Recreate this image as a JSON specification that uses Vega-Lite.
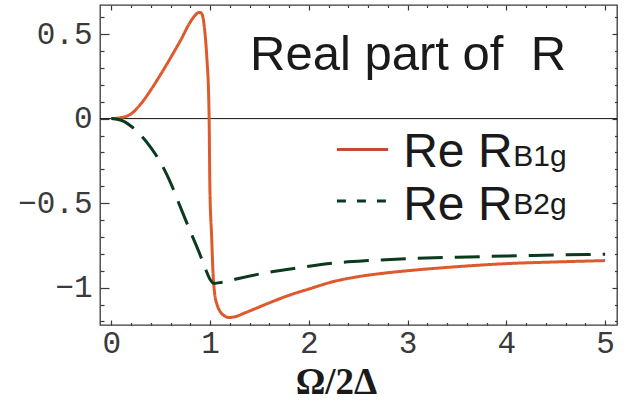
{
  "$schema": "https://vega.github.io/schema/vega-lite/v6.json",
  "width": 517,
  "height": 320,
  "autosize": "none",
  "padding": {"left": 100, "top": 5, "right": 16, "bottom": 77},
  "background": "white",
  "config": {
    "view": {"stroke": "#3a3a3a", "strokeWidth": 1.3},
    "axis": {"grid": false, "domain": false, "labelOverlap": false}
  },
  "datasets": {
    "one": [{}],
    "curves": [
      {"w": 0, "re": 0, "series": "B1g"},
      {"w": 0.1, "re": 0.006, "series": "B1g"},
      {"w": 0.2, "re": 0.028, "series": "B1g"},
      {"w": 0.3, "re": 0.088, "series": "B1g"},
      {"w": 0.4, "re": 0.17, "series": "B1g"},
      {"w": 0.5, "re": 0.262, "series": "B1g"},
      {"w": 0.6, "re": 0.36, "series": "B1g"},
      {"w": 0.7, "re": 0.462, "series": "B1g"},
      {"w": 0.8, "re": 0.572, "series": "B1g"},
      {"w": 0.85, "re": 0.612, "series": "B1g"},
      {"w": 0.88, "re": 0.627, "series": "B1g"},
      {"w": 0.9, "re": 0.628, "series": "B1g"},
      {"w": 0.92, "re": 0.615, "series": "B1g"},
      {"w": 0.94, "re": 0.55, "series": "B1g"},
      {"w": 0.955, "re": 0.46, "series": "B1g"},
      {"w": 0.97, "re": 0.33, "series": "B1g"},
      {"w": 0.983, "re": 0.18, "series": "B1g"},
      {"w": 0.99, "re": 0.0, "series": "B1g"},
      {"w": 0.998, "re": -0.42, "series": "B1g"},
      {"w": 1.015, "re": -0.69, "series": "B1g"},
      {"w": 1.03, "re": -0.92, "series": "B1g"},
      {"w": 1.045, "re": -1.03, "series": "B1g"},
      {"w": 1.07, "re": -1.1, "series": "B1g"},
      {"w": 1.1, "re": -1.14, "series": "B1g"},
      {"w": 1.14, "re": -1.165, "series": "B1g"},
      {"w": 1.19, "re": -1.177, "series": "B1g"},
      {"w": 1.25, "re": -1.172, "series": "B1g"},
      {"w": 1.35, "re": -1.15, "series": "B1g"},
      {"w": 1.45, "re": -1.126, "series": "B1g"},
      {"w": 1.6, "re": -1.09, "series": "B1g"},
      {"w": 1.8, "re": -1.045, "series": "B1g"},
      {"w": 2.0, "re": -1.008, "series": "B1g"},
      {"w": 2.25, "re": -0.964, "series": "B1g"},
      {"w": 2.5, "re": -0.935, "series": "B1g"},
      {"w": 2.75, "re": -0.915, "series": "B1g"},
      {"w": 3.0, "re": -0.9, "series": "B1g"},
      {"w": 3.5, "re": -0.876, "series": "B1g"},
      {"w": 4.0, "re": -0.858, "series": "B1g"},
      {"w": 4.5, "re": -0.848, "series": "B1g"},
      {"w": 5.0, "re": -0.84, "series": "B1g"},
      {"w": 0, "re": 0, "series": "B2g"},
      {"w": 0.1, "re": -0.01, "series": "B2g"},
      {"w": 0.2, "re": -0.045, "series": "B2g"},
      {"w": 0.3, "re": -0.1, "series": "B2g"},
      {"w": 0.4, "re": -0.172, "series": "B2g"},
      {"w": 0.5, "re": -0.262, "series": "B2g"},
      {"w": 0.6, "re": -0.38, "series": "B2g"},
      {"w": 0.7, "re": -0.525, "series": "B2g"},
      {"w": 0.8, "re": -0.668, "series": "B2g"},
      {"w": 0.9, "re": -0.808, "series": "B2g"},
      {"w": 0.95, "re": -0.885, "series": "B2g"},
      {"w": 1.0, "re": -0.952, "series": "B2g"},
      {"w": 1.04, "re": -0.975, "series": "B2g"},
      {"w": 1.12, "re": -0.968, "series": "B2g"},
      {"w": 1.3, "re": -0.944, "series": "B2g"},
      {"w": 1.575, "re": -0.911, "series": "B2g"},
      {"w": 1.9, "re": -0.882, "series": "B2g"},
      {"w": 2.25, "re": -0.855, "series": "B2g"},
      {"w": 2.6, "re": -0.84, "series": "B2g"},
      {"w": 3.0, "re": -0.829, "series": "B2g"},
      {"w": 3.5, "re": -0.82, "series": "B2g"},
      {"w": 4.0, "re": -0.813, "series": "B2g"},
      {"w": 4.5, "re": -0.807, "series": "B2g"},
      {"w": 5.0, "re": -0.802, "series": "B2g"}
    ]
  },
  "layer": [
    {
      "layer": [
        {
          "data": {"name": "one"},
          "mark": {"type": "rule", "color": "#111111", "strokeWidth": 1},
          "encoding": {
            "y": {"datum": 0, "type": "quantitative"}
          }
        },
        {
          "data": {"name": "curves"},
          "mark": {"type": "line", "strokeWidth": 3, "interpolate": "monotone"},
          "encoding": {
            "x": {
              "field": "w", "type": "quantitative",
              "scale": {"domain": [-0.115, 5.12], "nice": false, "zero": false},
              "axis": {
                "orient": "bottom",
                "title": "Ω/2Δ",
                "titleFont": "Liberation Serif",
                "titleFontSize": 37,
                "titleFontWeight": "bold",
                "titleColor": "#1a1a1a",
                "titleX": 236,
                "titlePadding": 6,
                "values": [0, 1, 2, 3, 4, 5],
                "format": "d",
                "labelOverlap": false,
                "labelFont": "Liberation Mono",
                "labelFontSize": 31,
                "labelColor": "#3a3a3a",
                "labelPadding": 8,
                "labelFlush": false,
                "tickColor": "#3a3a3a",
                "tickWidth": 1.2,
                "tickSize": -5
              }
            },
            "y": {
              "field": "re", "type": "quantitative",
              "scale": {"domain": [-1.221, 0.672], "nice": false, "zero": false},
              "axis": {
                "orient": "left",
                "title": null,
                "values": [-1, -0.5, 0, 0.5],
                "labelExpr": "datum.value == 0.5 ? '0.5' : datum.value == -0.5 ? '−0.5' : datum.value == -1 ? '−1' : '0'",
                "labelOverlap": false,
                "labelFont": "Liberation Mono",
                "labelFontSize": 31,
                "labelColor": "#3a3a3a",
                "labelPadding": 17,
                "labelFlush": false,
                "labelBaseline": "middle",
                "tickColor": "#3a3a3a",
                "tickWidth": 1.2,
                "tickSize": -9
              }
            },
            "color": {
              "field": "series", "type": "nominal",
              "scale": {"domain": ["B1g", "B2g"], "range": ["#DD5A2C", "#0B3A1C"]},
              "legend": null
            },
            "strokeDash": {
              "field": "series", "type": "nominal",
              "scale": {"domain": ["B1g", "B2g"], "range": [[1, 0], [25, 12]]},
              "legend": null
            }
          }
        },
        {
          "data": {"name": "one"},
          "mark": {"type": "text", "text": "Real part of\u00a0\u00a0R", "font": "Liberation Sans", "fontSize": 49, "align": "left", "baseline": "alphabetic", "color": "#1a1a1a"},
          "encoding": {
            "x": {"datum": 1.405, "type": "quantitative"},
            "y": {"datum": 0.289, "type": "quantitative"}
          }
        },
        {
          "data": {"name": "one"},
          "mark": {"type": "rule", "color": "#C8463A", "strokeWidth": 3},
          "encoding": {
            "x": {"datum": 2.284, "type": "quantitative"},
            "x2": {"datum": 2.803},
            "y": {"datum": -0.183, "type": "quantitative"}
          }
        },
        {
          "data": {"name": "one"},
          "mark": {"type": "rule", "color": "#0B3A1C", "strokeWidth": 3, "strokeDash": [9, 11]},
          "encoding": {
            "x": {"datum": 2.284, "type": "quantitative"},
            "x2": {"datum": 2.803},
            "y": {"datum": -0.488, "type": "quantitative"}
          }
        },
        {
          "data": {"name": "one"},
          "mark": {"type": "text", "text": "Re R", "font": "Liberation Sans", "fontSize": 48, "align": "left", "baseline": "alphabetic", "color": "#1a1a1a"},
          "encoding": {
            "x": {"datum": 2.955, "type": "quantitative"},
            "y": {"datum": -0.289, "type": "quantitative"}
          }
        },
        {
          "data": {"name": "one"},
          "mark": {"type": "text", "text": "B1g", "font": "Liberation Sans", "fontSize": 30, "align": "left", "baseline": "alphabetic", "color": "#1a1a1a"},
          "encoding": {
            "x": {"datum": 4.07, "type": "quantitative"},
            "y": {"datum": -0.282, "type": "quantitative"}
          }
        },
        {
          "data": {"name": "one"},
          "mark": {"type": "text", "text": "Re R", "font": "Liberation Sans", "fontSize": 48, "align": "left", "baseline": "alphabetic", "color": "#1a1a1a"},
          "encoding": {
            "x": {"datum": 2.955, "type": "quantitative"},
            "y": {"datum": -0.597, "type": "quantitative"}
          }
        },
        {
          "data": {"name": "one"},
          "mark": {"type": "text", "text": "B2g", "font": "Liberation Sans", "fontSize": 30, "align": "left", "baseline": "alphabetic", "color": "#1a1a1a"},
          "encoding": {
            "x": {"datum": 4.07, "type": "quantitative"},
            "y": {"datum": -0.567, "type": "quantitative"}
          }
        }
      ]
    },
    {
      "data": {"name": "curves"},
      "mark": {"type": "point", "opacity": 0},
      "encoding": {
        "x": {
          "field": "w", "type": "quantitative",
          "axis": {
            "orient": "top", "title": null, "labels": false,
            "values": [0, 0.2, 0.4, 0.6, 0.8, 1, 1.2, 1.4, 1.6, 1.8, 2, 2.2, 2.4, 2.6, 2.8, 3, 3.2, 3.4, 3.6, 3.8, 4, 4.2, 4.4, 4.6, 4.8, 5],
            "tickColor": "#3a3a3a", "tickWidth": 1.2,
            "tickSize": {"condition": {"test": "abs(datum.value - round(datum.value)) < 1e-6", "value": -5}, "value": -2.5}
          }
        },
        "y": {
          "field": "re", "type": "quantitative",
          "axis": {
            "orient": "right", "title": null, "labels": false,
            "values": [-1.2, -1.1, -1, -0.9, -0.8, -0.7, -0.6, -0.5, -0.4, -0.3, -0.2, -0.1, 0, 0.1, 0.2, 0.3, 0.4, 0.5, 0.6],
            "tickColor": "#3a3a3a", "tickWidth": 1.2,
            "tickSize": {"condition": {"test": "abs(datum.value*2 - round(datum.value*2)) < 1e-6", "value": -5}, "value": -2.5}
          }
        }
      }
    },
    {
      "data": {"name": "curves"},
      "mark": {"type": "point", "opacity": 0},
      "encoding": {
        "x": {
          "field": "w", "type": "quantitative",
          "axis": {
            "orient": "bottom", "title": null, "labels": false,
            "values": [0.2, 0.4, 0.6, 0.8, 1.2, 1.4, 1.6, 1.8, 2.2, 2.4, 2.6, 2.8, 3.2, 3.4, 3.6, 3.8, 4.2, 4.4, 4.6, 4.8],
            "tickColor": "#3a3a3a", "tickWidth": 1.2, "tickSize": -2.5
          }
        },
        "y": {
          "field": "re", "type": "quantitative",
          "axis": {
            "orient": "left", "title": null, "labels": false,
            "values": [-1.2, -1.1, -0.9, -0.8, -0.7, -0.6, -0.4, -0.3, -0.2, -0.1, 0.1, 0.2, 0.3, 0.4, 0.6],
            "tickColor": "#3a3a3a", "tickWidth": 1.2, "tickSize": -4
          }
        }
      }
    }
  ],
  "resolve": {"axis": {"x": "independent", "y": "independent"}}
}
